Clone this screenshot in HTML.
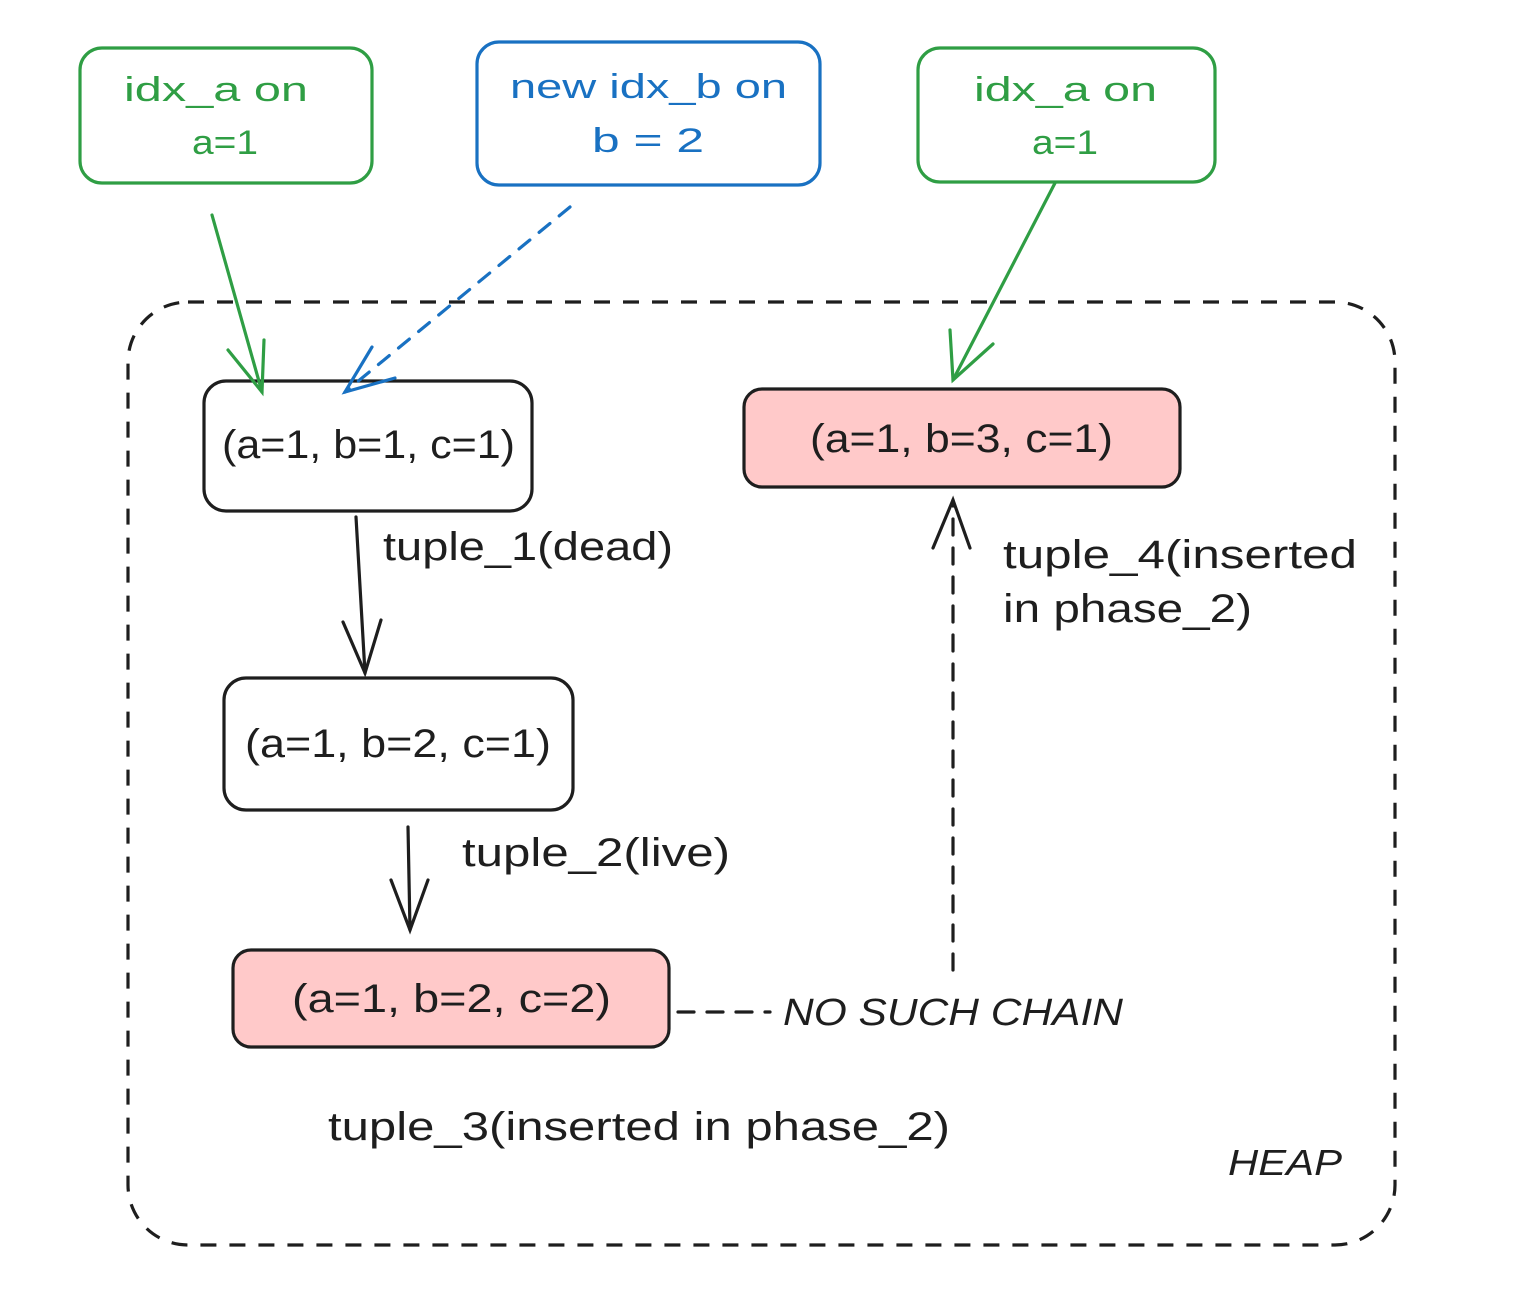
<!DOCTYPE html>
<html><head><meta charset="utf-8"><style>
html,body{margin:0;padding:0;background:#fff;}
svg text{font-family:"Liberation Sans",sans-serif;}
</style></head><body>
<svg width="1514" height="1308" viewBox="0 0 1514 1308" xmlns="http://www.w3.org/2000/svg">
<rect x="128" y="302" width="1267" height="943" rx="60" fill="none" stroke="#1e1e1e" stroke-width="3.2" stroke-dasharray="16 13"/>
<rect x="80" y="48" width="292" height="135" rx="22" fill="#fff" stroke="#2f9e44" stroke-width="3.2"/>
<text x="124" y="101" font-size="34" fill="#2f9e44" textLength="184" lengthAdjust="spacingAndGlyphs">idx_a on</text>
<text x="192" y="154" font-size="34" fill="#2f9e44" textLength="66" lengthAdjust="spacingAndGlyphs">a=1</text>
<rect x="477" y="42" width="343" height="143" rx="22" fill="#fff" stroke="#1971c2" stroke-width="3.2"/>
<text x="510" y="98" font-size="34" fill="#1971c2" textLength="277" lengthAdjust="spacingAndGlyphs">new idx_b on</text>
<text x="592" y="152" font-size="34" fill="#1971c2" textLength="112" lengthAdjust="spacingAndGlyphs">b = 2</text>
<rect x="918" y="48" width="297" height="134" rx="22" fill="#fff" stroke="#2f9e44" stroke-width="3.2"/>
<text x="974" y="101" font-size="34" fill="#2f9e44" textLength="183" lengthAdjust="spacingAndGlyphs">idx_a on</text>
<text x="1032" y="154" font-size="34" fill="#2f9e44" textLength="66" lengthAdjust="spacingAndGlyphs">a=1</text>
<rect x="204" y="381" width="328" height="130" rx="22" fill="#fff" stroke="#1e1e1e" stroke-width="3.2"/>
<text x="222" y="458" font-size="40" fill="#1e1e1e" textLength="293" lengthAdjust="spacingAndGlyphs">(a=1, b=1, c=1)</text>
<rect x="744" y="389" width="436" height="98" rx="18" fill="#ffc9c9" stroke="#1e1e1e" stroke-width="3.2"/>
<text x="810" y="452" font-size="40" fill="#1e1e1e" textLength="303" lengthAdjust="spacingAndGlyphs">(a=1, b=3, c=1)</text>
<rect x="224" y="678" width="349" height="132" rx="22" fill="#fff" stroke="#1e1e1e" stroke-width="3.2"/>
<text x="245" y="757" font-size="40" fill="#1e1e1e" textLength="306" lengthAdjust="spacingAndGlyphs">(a=1, b=2, c=1)</text>
<rect x="233" y="950" width="436" height="97" rx="18" fill="#ffc9c9" stroke="#1e1e1e" stroke-width="3.2"/>
<text x="292" y="1012" font-size="40" fill="#1e1e1e" textLength="319" lengthAdjust="spacingAndGlyphs">(a=1, b=2, c=2)</text>
<g fill="none" stroke-width="3.2" stroke-linecap="round">
<path d="M212 215 L262 392" stroke="#2f9e44"/>
<path d="M228 350 L262 392 L264 340" stroke="#2f9e44"/>
<path d="M570 207 L345 392" stroke="#1971c2" stroke-dasharray="14 12"/>
<path d="M372 347 L345 392 L395 378" stroke="#1971c2"/>
<path d="M1055 183 L953 380" stroke="#2f9e44"/>
<path d="M950 330 L953 380 L993 344" stroke="#2f9e44"/>
<path d="M356 517 L365 673" stroke="#1e1e1e"/>
<path d="M343 622 L365 673 L381 620" stroke="#1e1e1e"/>
<path d="M408 827 L410 930" stroke="#1e1e1e"/>
<path d="M391 880 L410 930 L428 880" stroke="#1e1e1e"/>
<path d="M953 970 L953 500" stroke="#1e1e1e" stroke-dasharray="16 13"/>
<path d="M933 548 L953 500 L970 548" stroke="#1e1e1e"/>
<path d="M678 1012 L770 1012" stroke="#1e1e1e" stroke-dasharray="16 13"/>
</g>
<g font-size="40" fill="#1e1e1e">
<text x="383" y="560" textLength="290" lengthAdjust="spacingAndGlyphs">tuple_1(dead)</text>
<text x="462" y="866" textLength="268" lengthAdjust="spacingAndGlyphs">tuple_2(live)</text>
<text x="1003" y="568" textLength="354" lengthAdjust="spacingAndGlyphs">tuple_4(inserted</text>
<text x="1003" y="622" textLength="249" lengthAdjust="spacingAndGlyphs">in phase_2)</text>
<text x="328" y="1140" textLength="622" lengthAdjust="spacingAndGlyphs">tuple_3(inserted in phase_2)</text>
<text x="783" y="1025" font-size="38" font-style="italic" textLength="340" lengthAdjust="spacingAndGlyphs">NO SUCH CHAIN</text>
<text x="1228" y="1175" font-size="36" font-style="italic" textLength="114" lengthAdjust="spacingAndGlyphs">HEAP</text>
</g>
</svg>
</body></html>
